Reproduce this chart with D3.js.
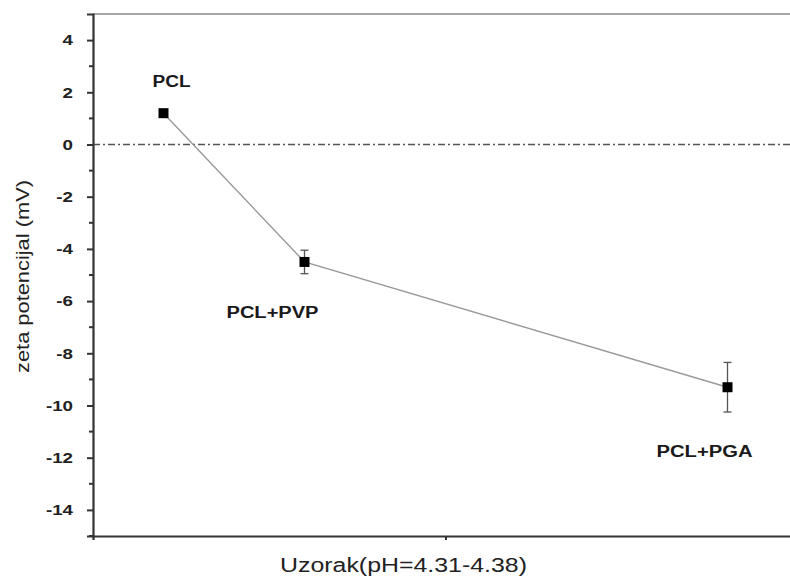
<!DOCTYPE html>
<html>
<head>
<meta charset="utf-8">
<script src="https://cdn.jsdelivr.net/npm/d3@7"></script>
<style>
	body { margin: 0; background: #fff; }
	svg { display: block; font-family: "Liberation Sans", Arial, sans-serif; }
</style>
</head>
<body>
<script>
const width = 790,
	height = 579

// samples: x position on the Origin-style numeric axis, zeta value, error
const samples = ["PCL", "PCL+PVP", "PCL+PGA"]
const samplePos = [1, 2, 5]
const zeta = [1.2, -4.5, -9.3]
const zetaErr = [0, 0.45, 0.95]
const yTicks = [4, 2, 0, -2, -4, -6, -8, -10, -12, -14]

const margin = { left: 93, top: 14, bottom: 43 }
const stretch = 1.25 // the source picture is widened horizontally

const x = d3.scaleLinear().domain([0.5, 5.5]).range([margin.left, 798])
const y = d3.scaleLinear().domain([-15, 5]).range([height - margin.bottom, margin.top])

const svg = d3.select("body").append("svg")
	.attr("width", width)
	.attr("height", height)

// top frame line
svg.append("line")
	.attr("x1", x(0.5)).attr("x2", x(5.5))
	.attr("y1", y(5)).attr("y2", y(5))
	.attr("stroke", "#8a8a8a")
	.attr("stroke-width", 1.5)

// zero reference line (dash-dot)
svg.append("line")
	.attr("x1", x(0.5)).attr("x2", x(5.5))
	.attr("y1", y(0)).attr("y2", y(0))
	.attr("stroke", "#555")
	.attr("stroke-width", 1.5)
	.attr("stroke-dasharray", "7,3,2,3")

// left axis
const yAxis = svg.append("g")
	.attr("transform", `translate(${margin.left},0)`)
	.call(d3.axisLeft(y).tickValues(yTicks).tickSize(6).tickFormat(d => String(d).replace("−", "-")))

yAxis.select(".domain").attr("stroke", "#333").attr("stroke-width", 2.2)
yAxis.selectAll(".tick line").attr("stroke", "#333").attr("stroke-width", 2)
yAxis.selectAll(".tick text")
	.attr("x", -20 / stretch)
	.attr("transform", `scale(${stretch},1)`)
	.attr("fill", "#222")
	.style("font-size", "15px")
	.style("font-weight", "bold")

// minor ticks on y
const minor = d3.range(-15, 5, 2)
svg.append("g").selectAll("line")
	.data(minor)
	.join("line")
	.attr("x1", margin.left - 4).attr("x2", margin.left)
	.attr("y1", d => y(d)).attr("y2", d => y(d))
	.attr("stroke", "#333")
	.attr("stroke-width", 2)

// bottom axis
const xAxis = svg.append("g")
	.attr("transform", `translate(0,${y(-15)})`)
	.call(d3.axisBottom(x).tickValues([3]).tickSize(4).tickFormat(""))
xAxis.select(".domain").attr("stroke", "#333").attr("stroke-width", 2.2)
xAxis.selectAll(".tick line").attr("stroke", "#333").attr("stroke-width", 2)

// connecting line
const pts = samples.map((s, i) => ({ name: s, x: samplePos[i], y: zeta[i], e: zetaErr[i] }))
svg.append("path")
	.datum(pts)
	.attr("fill", "none")
	.attr("stroke", "#999")
	.attr("stroke-width", 1.4)
	.attr("d", d3.line().x(d => x(d.x)).y(d => y(d.y)))

// error bars
const err = svg.append("g").attr("stroke", "#555").attr("stroke-width", 1.3)
pts.filter(d => d.e > 0).forEach(d => {
	err.append("line")
		.attr("x1", x(d.x)).attr("x2", x(d.x))
		.attr("y1", y(d.y + d.e)).attr("y2", y(d.y - d.e))
	;[d.y + d.e, d.y - d.e].forEach(v => {
		err.append("line")
			.attr("x1", x(d.x) - 4).attr("x2", x(d.x) + 4)
			.attr("y1", y(v)).attr("y2", y(v))
	})
})

// markers
svg.append("g").selectAll("rect")
	.data(pts)
	.join("rect")
	.attr("x", d => x(d.x) - 5)
	.attr("y", d => y(d.y) - 5)
	.attr("width", 10)
	.attr("height", 10)
	.attr("fill", "#000")

// point labels
const labelDy = [-26, 56, 70]
const labelDx = [8, -32, -23]
const labelLen = [38, 92, 96]
svg.append("g").selectAll("text")
	.data(pts)
	.join("text")
	.attr("x", (d, i) => x(d.x) + labelDx[i] - labelLen[i] / 2)
	.attr("y", (d, i) => y(d.y) + labelDy[i])
	.attr("textLength", (d, i) => labelLen[i])
	.attr("lengthAdjust", "spacingAndGlyphs")
	.attr("fill", "#1a1a1a")
	.style("font-size", "16px")
	.style("font-weight", "bold")
	.text(d => d.name)

// axis titles
svg.append("text")
	.attr("transform", `translate(29,${(y(5) + y(-15)) / 2 + 2}) rotate(-90)`)
	.attr("x", -96)
	.attr("textLength", 193)
	.attr("lengthAdjust", "spacingAndGlyphs")
	.attr("fill", "#222")
	.style("font-size", "18px")
	.text("zeta potencijal (mV)")

svg.append("text")
	.attr("x", 280)
	.attr("y", 572)
	.attr("textLength", 247)
	.attr("lengthAdjust", "spacingAndGlyphs")
	.attr("fill", "#222")
	.style("font-size", "20px")
	.text("Uzorak(pH=4.31-4.38)")
</script>
</body>
</html>
